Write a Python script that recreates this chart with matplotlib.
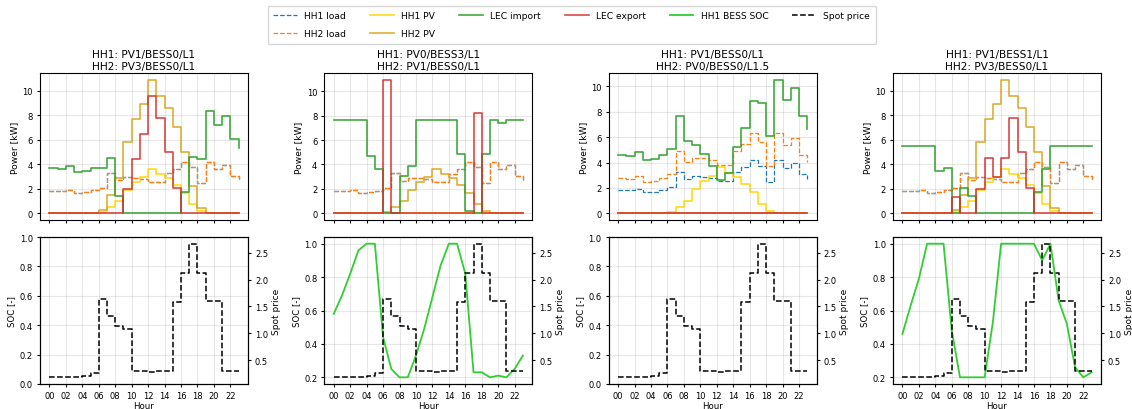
import matplotlib
matplotlib.use("Agg")
import matplotlib.pyplot as plt
from matplotlib.ticker import MultipleLocator

plt.rcParams["font.size"] = 6.2
plt.rcParams["xtick.labelsize"] = 6.0
plt.rcParams["ytick.labelsize"] = 6.0
plt.rcParams["xtick.major.size"] = 2.5
plt.rcParams["ytick.major.size"] = 2.5
plt.rcParams["xtick.major.pad"] = 2.5
plt.rcParams["ytick.major.pad"] = 2.5
plt.rcParams["axes.labelpad"] = 2.5

hours = list(range(24))
hour_ticks = list(range(0, 24, 2))
hour_labels = ["%02d" % h for h in hour_ticks]

# spot price is the same for every scenario
spot_price = [0.18, 0.18, 0.18, 0.19, 0.21, 0.26, 1.64, 1.32, 1.14, 1.08, 0.29, 0.29,
              0.27, 0.30, 0.30, 1.59, 2.13, 2.67, 2.12, 1.60, 1.60, 0.29, 0.29, 0.29]

# household loads
load_l1 = [1.85, 1.80, 1.93, 1.66, 1.71, 1.86, 2.08, 3.28, 2.68, 2.93, 2.88, 2.78,
           2.53, 2.53, 3.26, 3.63, 4.22, 3.76, 2.50, 4.22, 3.60, 3.97, 3.08, 2.72]
load_l15 = [2.77, 2.70, 2.90, 2.49, 2.56, 2.79, 3.12, 4.92, 4.02, 4.39, 4.32, 4.17,
            3.80, 3.80, 4.89, 5.44, 6.33, 5.64, 3.75, 6.33, 5.40, 5.95, 4.62, 4.08]

# pv production
pv0 = [0.0] * 24
pv1 = [0, 0, 0, 0, 0, 0, 0.10, 0.50, 0.97, 1.93, 2.57, 2.97,
       3.63, 3.20, 2.87, 2.33, 1.67, 0.73, 0.15, 0, 0, 0, 0, 0]
pv3 = [0, 0, 0, 0, 0, 0, 0.30, 1.50, 2.90, 5.80, 7.70, 8.90,
       10.90, 9.60, 8.60, 7.00, 5.00, 2.20, 0.45, 0, 0, 0, 0, 0]

# LEC import / export per scenario
import_1 = [3.67, 3.59, 3.84, 3.34, 3.45, 3.67, 3.70, 4.52, 1.42, 0, 0, 0,
            0, 0, 0, 0, 1.75, 4.60, 4.40, 8.38, 7.20, 7.90, 6.08, 5.30]
export_1 = [0, 0, 0, 0, 0, 0, 0, 0, 0, 1.95, 4.47, 6.50,
            9.53, 7.80, 4.98, 2.10, 0, 0, 0, 0, 0, 0, 0, 0]

import_2 = [7.65, 7.65, 7.65, 7.65, 4.68, 3.64, 0, 0, 3.07, 3.89, 7.65, 7.65,
            7.65, 7.65, 7.65, 4.88, 0.20, 0, 4.85, 7.65, 7.42, 7.65, 7.65, 7.65]
export_2 = [0, 0, 0, 0, 0, 0, 10.95, 0, 0, 0, 0, 0,
            0, 0, 0, 0, 0, 8.20, 0, 0, 0, 0, 0, 0]

import_3 = [4.59, 4.49, 4.83, 4.20, 4.30, 4.56, 5.09, 7.68, 5.67, 5.36, 4.67, 3.72,
            2.66, 3.14, 5.25, 6.70, 8.87, 8.68, 6.10, 10.53, 8.94, 9.89, 7.65, 6.62]
export_3 = [0.0] * 24

import_4 = [5.53, 5.53, 5.53, 5.53, 3.48, 3.67, 0, 2.08, 1.40, 0, 0, 0,
            0, 0, 0, 0, 1.75, 3.62, 5.53, 5.53, 5.53, 5.53, 5.53, 5.53]
export_4 = [0, 0, 0, 0, 0, 0, 1.32, 0, 0, 1.97, 4.49, 2.93,
            4.55, 7.80, 4.98, 2.10, 0, 0, 0, 0, 0, 0, 0, 0]

# battery state of charge (only where HH1 has a battery)
soc_2 = [0.58, 0.69, 0.82, 0.96, 1.00, 1.00, 0.44, 0.25, 0.20, 0.20, 0.33, 0.49,
         0.68, 0.87, 1.00, 1.00, 0.82, 0.23, 0.23, 0.20, 0.21, 0.20, 0.25, 0.33]
soc_4 = [0.46, 0.63, 0.79, 1.00, 1.00, 1.00, 0.48, 0.20, 0.20, 0.20, 0.20, 0.53,
         1.00, 1.00, 1.00, 1.00, 1.00, 0.90, 1.00, 0.66, 0.52, 0.26, 0.20, 0.23]

titles = ["HH1: PV1/BESS0/L1\nHH2: PV3/BESS0/L1",
          "HH1: PV0/BESS3/L1\nHH2: PV1/BESS0/L1",
          "HH1: PV1/BESS0/L1\nHH2: PV0/BESS0/L1.5",
          "HH1: PV1/BESS1/L1\nHH2: PV3/BESS0/L1"]

escenarios = [
    (load_l1, load_l1, pv1, pv3, import_1, export_1, None),
    (load_l1, load_l1, pv0, pv1, import_2, export_2, soc_2),
    (load_l1, load_l15, pv1, pv0, import_3, export_3, None),
    (load_l1, load_l1, pv1, pv3, import_4, export_4, soc_4),
]

fig, axes = plt.subplots(2, 4, figsize=(11.32, 4.1), dpi=100, sharex=True)
fig.subplots_adjust(left=0.0353, right=0.9726, top=0.8195, bottom=0.061,
                    wspace=0.367, hspace=0.116)

handles = {}
for i, (l1, l2, p1, p2, imp, exp, soc) in enumerate(escenarios):
    ax = axes[0, i]
    h, = ax.step(hours, l1, where="post", color="tab:blue", ls="--", lw=0.9, label="HH1 load")
    handles["HH1 load"] = h
    h, = ax.step(hours, l2, where="post", color="tab:orange", ls="--", lw=0.9, label="HH2 load")
    handles["HH2 load"] = h
    h, = ax.step(hours, p1, where="post", color="gold", lw=1.2, alpha=0.9, label="HH1 PV")
    handles["HH1 PV"] = h
    h, = ax.step(hours, p2, where="post", color="goldenrod", lw=1.2, alpha=0.9, label="HH2 PV")
    handles["HH2 PV"] = h
    h, = ax.step(hours, imp, where="post", color="tab:green", lw=1.2, alpha=0.9, label="LEC import")
    handles["LEC import"] = h
    h, = ax.step(hours, exp, where="post", color="tab:red", lw=1.2, alpha=0.85, label="LEC export")
    handles["LEC export"] = h
    ax.set_title(titles[i], fontsize=7.6, pad=3)
    ax.set_ylabel("Power [kW]", fontsize=6.6)
    ax.grid(True, alpha=0.3)

    axb = axes[1, i]
    if soc is not None:
        h, = axb.plot(hours, soc, color="limegreen", lw=1.3, label="HH1 BESS SOC")
        handles["HH1 BESS SOC"] = h
    else:
        axb.set_ylim(0, 1)
    axb.yaxis.set_major_locator(MultipleLocator(0.2))
    axb.set_ylabel("SOC [-]")
    axb.set_xlabel("Hour", labelpad=1)
    axb.grid(True, alpha=0.3)
    axp = axb.twinx()
    h, = axp.step(hours, spot_price, where="post", color="black", ls="--", lw=1.1, label="Spot price")
    handles["Spot price"] = h
    axp.set_ylabel("Spot price", fontsize=6.5)

axes[1, 0].set_xticks(hour_ticks)
axes[1, 0].set_xticklabels(hour_labels)

orden = ["HH1 load", "HH2 load", "HH1 PV", "HH2 PV", "LEC import", "LEC export",
         "HH1 BESS SOC", "Spot price"]
fig.legend([handles[k] for k in orden], orden, loc="upper center",
           bbox_to_anchor=(0.505, 0.995), ncol=6, fontsize=6.6,
           handlelength=2.6, columnspacing=2.6, labelspacing=1.0, borderpad=0.6)

fig.savefig("out.png", dpi=100)
